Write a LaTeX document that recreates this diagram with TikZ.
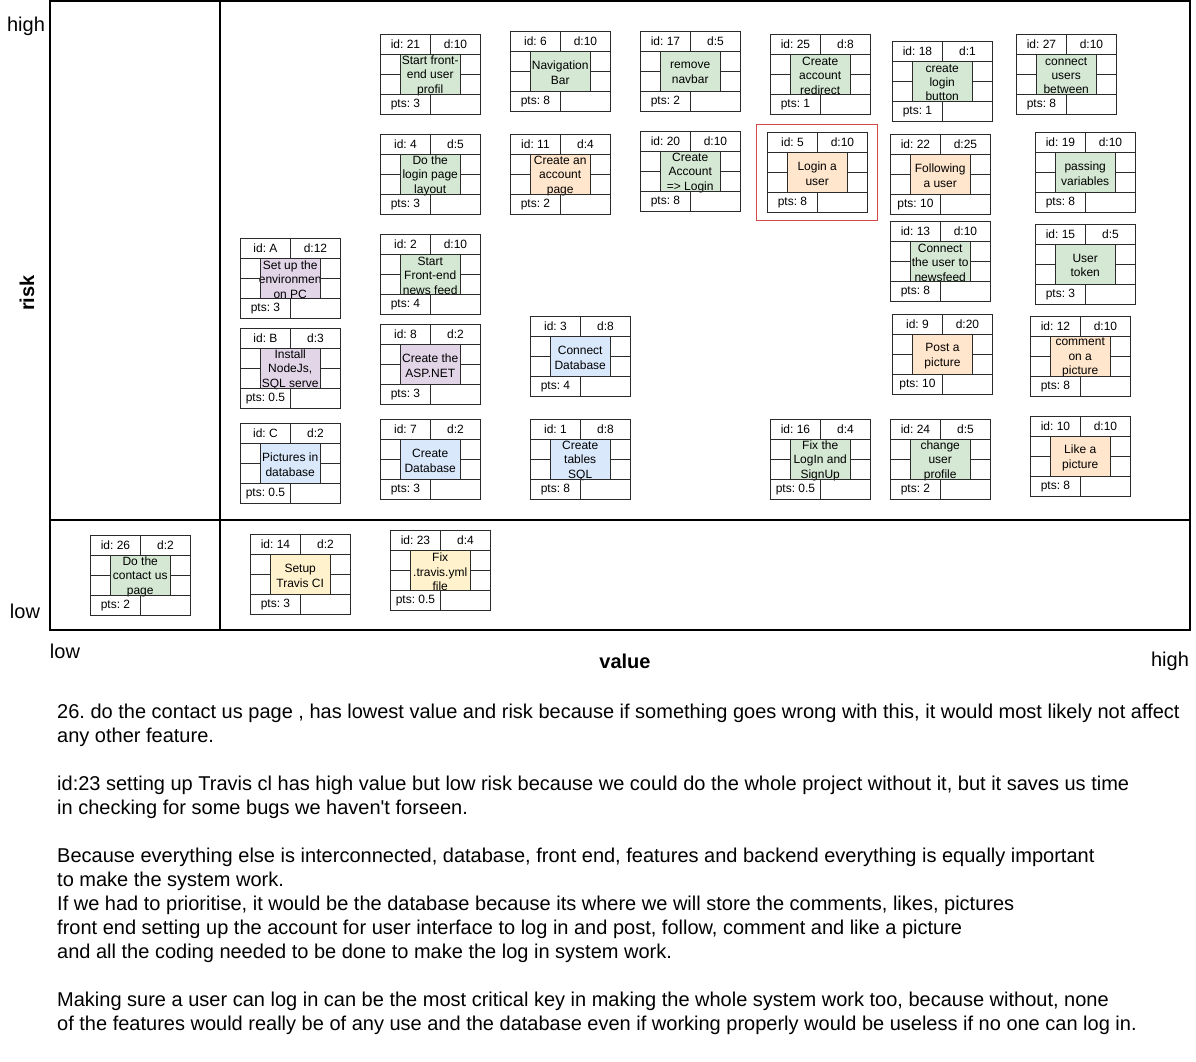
\documentclass[tikz,border=0pt]{standalone}
\usepackage{fontspec}
\setmainfont{Liberation Sans}
\frenchspacing
\definecolor{greenfill}{HTML}{D5E8D4}
\definecolor{orangefill}{HTML}{FFE6CC}
\definecolor{purplefill}{HTML}{E1D5E7}
\definecolor{bluefill}{HTML}{DAE8FC}
\definecolor{yellowfill}{HTML}{FFF2CC}
\definecolor{postedge}{HTML}{D79B00}
\definecolor{focusred}{HTML}{D04A4A}
\definecolor{cellline}{HTML}{2B2B2B}

% one task card: name, x, y, id, d, pts, fill style, text
\newcommand{\taskcard}[8]{%
  \begin{scope}[shift={(#2,#3)}]
    \node[body, #7] (#1-body) at (20,20) {};
    \node[cardtext] (#1-text) at (#1-body.center) {#8};
    \node[cell, minimum width=50] (#1-id) at (0,0) {id: #4};
    \node[cell, minimum width=50] (#1-d) at (50,0) {d:#5};
    \node[cell] (#1-l1) at (0,20) {};
    \node[cell] (#1-l2) at (0,40) {};
    \node[cell] (#1-r1) at (80,20) {};
    \node[cell] (#1-r2) at (80,40) {};
    \node[cell, minimum width=50] (#1-pts) at (0,60) {pts: #6};
    \node[cell, minimum width=50] (#1-e) at (50,60) {};
  \end{scope}}

\begin{document}
\begin{tikzpicture}[x=1pt, y=-1pt,
    cell/.style={draw=cellline, line width=0.9pt, anchor=north west, minimum width=20, minimum height=20, inner sep=0, font=\fontsize{12}{14.4}\selectfont},
    body/.style={anchor=north west, minimum width=60, minimum height=40, inner sep=0},
    cardtext/.style={align=center, inner sep=0, yshift=-1.5pt, font=\fontsize{12}{14.4}\selectfont},
    gfill/.style={fill=greenfill}, ofill/.style={fill=orangefill}, pfill/.style={fill=purplefill},
    bfill/.style={fill=bluefill}, yfill/.style={fill=yellowfill},
    axis/.style={font=\fontsize{20}{24}\selectfont},
    frame/.style={line width=1.4pt}]
    \path[fill=white, use as bounding box] (0,0) rectangle (1196,1061);
    % quadrant frame
    \draw[frame] (50,1) rectangle (1190,630);
    \draw[frame] (220,1) -- (220,630);
    \draw[frame] (50,520) -- (1190,520);
    % axis labels
    \node[axis] (riskhigh) at (26,26) {high};
    \node[axis] (risklow) at (25,611) {low};
    \node[axis, font=\fontsize{20}{24}\selectfont\bfseries, rotate=90] (risk) at (27,293) {risk};
    \node[axis] (valuelow) at (65,651) {low};
    \node[axis, font=\fontsize{20}{24}\selectfont\bfseries] (value) at (625,661) {value};
    \node[axis] (valuehigh) at (1170,661) {high};
    % highlighted task
    \node[draw=focusred, line width=1pt, anchor=north west, minimum width=121, minimum height=96, inner sep=0] (focus) at (756,124) {};
    % first row
    \taskcard{c21}{380}{34}{21}{10}{3}{gfill}{Start front-\\end user\\profil}
    \taskcard{c6}{510}{31}{6}{10}{8}{gfill}{Navigation\\Bar}
    \taskcard{c17}{640}{31}{17}{5}{2}{gfill}{remove\\navbar}
    \taskcard{c25}{770}{34}{25}{8}{1}{gfill}{Create\\account\\redirect}
    \taskcard{c18}{892}{41}{18}{1}{1}{gfill}{create\\login\\button}
    \taskcard{c27}{1016}{34}{27}{10}{8}{gfill}{connect\\users\\between}
    % second row
    \taskcard{c4}{380}{134}{4}{5}{3}{gfill}{Do the\\login page\\layout}
    \taskcard{c11}{510}{134}{11}{4}{2}{ofill}{Create an\\account\\page}
    \taskcard{c20}{640}{131}{20}{10}{8}{gfill}{Create\\Account\\=> Login}
    \taskcard{c5}{767}{132}{5}{10}{8}{ofill}{Login a\\user}
    \taskcard{c22}{890}{134}{22}{25}{10}{ofill}{Following\\a user}
    \taskcard{c19}{1035}{132}{19}{10}{8}{gfill}{passing\\variables}
    % third row
    \taskcard{cA}{240}{238}{A}{12}{3}{pfill}{Set up the\\environmen\\on PC}
    \taskcard{c2}{380}{234}{2}{10}{4}{gfill}{Start\\Front-end\\news feed}
    \taskcard{c13}{890}{221}{13}{10}{8}{gfill}{Connect\\the user to\\newsfeed}
    \taskcard{c15}{1035}{224}{15}{5}{3}{gfill}{User\\token}
    % fourth row
    \taskcard{cB}{240}{328}{B}{3}{0.5}{pfill}{Install\\NodeJs,\\SQL serve}
    \taskcard{c8}{380}{324}{8}{2}{3}{pfill}{Create the\\ASP.NET}
    \taskcard{c3}{530}{316}{3}{8}{4}{bfill}{Connect\\Database}
    \taskcard{c9}{892}{314}{9}{20}{10}{ofill, draw=postedge, line width=0.9pt}{Post a\\picture}
    \taskcard{c12}{1030}{316}{12}{10}{8}{ofill}{comment\\on a\\picture}
    % fifth row
    \taskcard{cC}{240}{423}{C}{2}{0.5}{bfill}{Pictures in\\database}
    \taskcard{c7}{380}{419}{7}{2}{3}{bfill}{Create\\Database}
    \taskcard{c1}{530}{419}{1}{8}{8}{bfill}{Create\\tables\\SQL}
    \taskcard{c16}{770}{419}{16}{4}{0.5}{gfill}{Fix the\\LogIn and\\SignUp}
    \taskcard{c24}{890}{419}{24}{5}{2}{gfill}{change\\user\\profile}
    \taskcard{c10}{1030}{416}{10}{10}{8}{ofill}{Like a\\picture}
    % low risk strip
    \taskcard{c26}{90}{535}{26}{2}{2}{gfill}{Do the\\contact us\\page}
    \taskcard{c14}{250}{534}{14}{2}{3}{yfill}{Setup\\Travis CI}
    \taskcard{c23}{390}{530}{23}{4}{0.5}{yfill}{Fix\\.travis.yml\\file}
    % notes under the chart
    \node[anchor=north west, inner sep=0, align=left, font=\fontsize{20}{24}\selectfont] (notes) at (57,704) {%
      26. do the contact us page , has lowest value and risk because if something goes wrong with this, it would most likely not affect\\
      any other feature.\\[24pt]
      id:23 setting up Travis cl has high value but low risk because we could do the whole project without it, but it saves us time\\
      in checking for some bugs we haven\textquotesingle t forseen.\\[24pt]
      Because everything else is interconnected, database, front end, features and backend everything is equally important\\
      to make the system work.\\
      If we had to prioritise, it would be the database because its where we will store the comments, likes, pictures\\
      front end setting up the account for user interface to log in and post, follow, comment and like a picture\\
      and all the coding needed to be done to make the log in system work.\\[24pt]
      Making sure a user can log in can be the most critical key in making the whole system work too, because without, none\\
      of the features would really be of any use and the database even if working properly would be useless if no one can log in.};
\end{tikzpicture}
\end{document}
